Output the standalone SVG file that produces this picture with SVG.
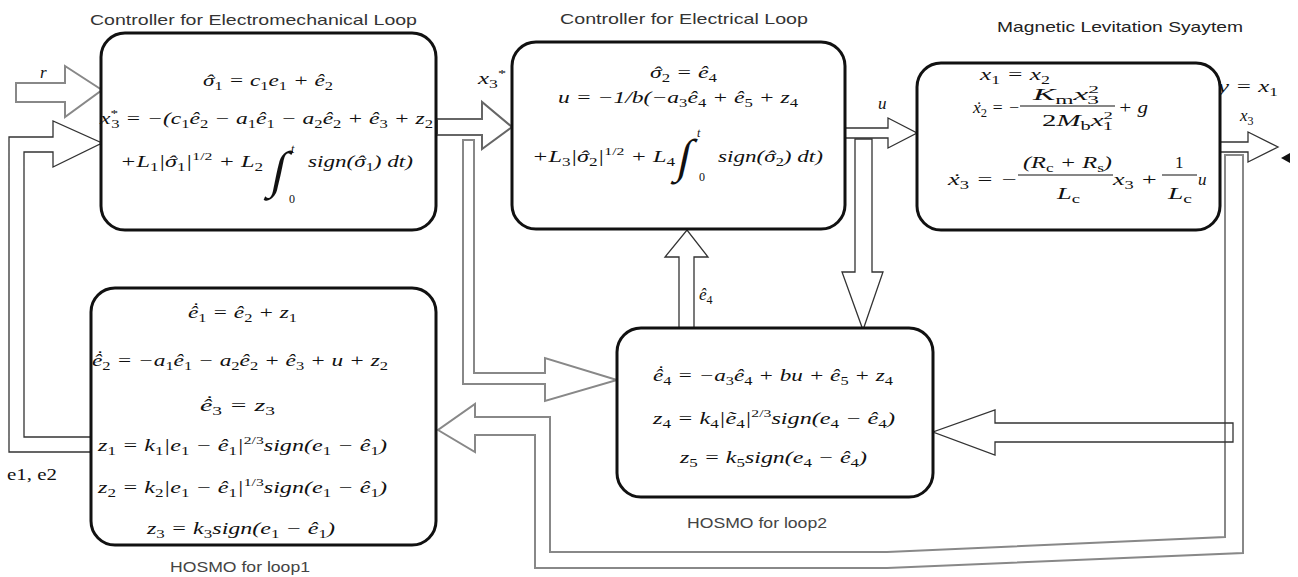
<svg xmlns="http://www.w3.org/2000/svg" width="1298" height="577" viewBox="0 0 1298 577">
<style>
.m{font-family:"Liberation Serif","DejaVu Serif",serif;font-size:17px;font-style:italic;fill:#111}
.n{font-style:normal}
.i{font-style:italic}
.b{font-size:12px;baseline-shift:-4px;font-style:normal}
.p{font-size:11px;baseline-shift:7px;font-style:normal}
.lim{font-family:"Liberation Serif",serif;font-size:12px;fill:#111}
.int{font-family:"Liberation Serif","DejaVu Serif",serif;fill:#111}
.t{font-family:"Liberation Sans",Arial,sans-serif;font-size:15px;fill:#333}
.box{fill:#fff;stroke:#111;stroke-width:3}
.dk{fill:none;stroke:#333;stroke-width:1.3}
.gr{fill:none;stroke:#888;stroke-width:2}
.bar{stroke:#111;stroke-width:1.2}
</style>
<rect width="1298" height="577" fill="#fff"/>
<g id="connectors">
  <polygon class="gr" points="16,83 65,83 65,66 102,90 65,117 65,102 16,102"/>
  <polygon class="dk" points="91,452 9,452 9,137 53,137 53,121 102,143 53,167 53,152 24,152 24,437 91,437"/>
  <polygon class="gr" style="stroke:#666" points="437,119 482,119 482,102 512,127 482,149 482,135 437,135"/>
  <polygon class="gr" points="463,140 474,140 474,373 545,373 545,358 617,380 545,401 545,384 463,384"/>
  <polygon class="dk" points="845,128 888,128 888,118 917,133 888,148 888,138 845,138"/>
  <polygon class="dk" points="855,139 872,139 872,272 883,272 863,330 842,272 855,272"/>
  <polygon class="dk" points="679,328 679,257 665,257 687,230 708,257 694,257 694,328"/>
  <polygon class="dk" points="1220,142 1248,142 1248,132 1278,147 1248,162 1248,152 1220,152"/>
  <polygon fill="#111" points="1281,158 1290,153 1290,163"/>
  <polygon class="gr" points="1225,155 1243,155 1243,553 887,568 535,568 535,435 475,435 475,452 438,430 475,404 475,417 550,417 550,552 887,552 1225,537"/>
  <polygon class="dk" points="1233,423 995,423 995,410 933,432 995,455 995,442 1233,442"/>
  <text class="m" x="40" y="78">r</text>
  <text class="m" x="478" y="84" textLength="28" lengthAdjust="spacingAndGlyphs">x<tspan class="b">3</tspan><tspan class="p">*</tspan></text>
  <text class="m" x="878" y="109">u</text>
  <text class="m" x="699" y="300">ê<tspan class="b">4</tspan></text>
  <text class="m" x="1218" y="92" textLength="60" lengthAdjust="spacingAndGlyphs">y = x<tspan class="b">1</tspan></text>
  <text class="m" x="1240" y="121">x<tspan class="b">3</tspan></text>
  <text class="m n" x="7" y="480" textLength="50" lengthAdjust="spacingAndGlyphs">e1, e2</text>
</g>
<g id="ctrl-electromechanical">
  <rect class="box" x="101" y="33" width="335" height="197" rx="24"/>
  <text class="t" x="90" y="25" textLength="327" lengthAdjust="spacingAndGlyphs">Controller for Electromechanical Loop</text>
  <text class="m" x="203" y="86" textLength="130" lengthAdjust="spacingAndGlyphs">σ<tspan dx="-6.5">ˆ</tspan><tspan class="b" dx="0.8">1</tspan> = c<tspan class="b">1</tspan>e<tspan class="b">1</tspan> + ê<tspan class="b">2</tspan></text>
  <text class="m" x="100" y="124" textLength="333" lengthAdjust="spacingAndGlyphs">x<tspan class="p">*</tspan><tspan class="b" dx="-5">3</tspan> = −(c<tspan class="b">1</tspan>ê<tspan class="b">2</tspan> − a<tspan class="b">1</tspan>ê<tspan class="b">1</tspan> − a<tspan class="b">2</tspan>ê<tspan class="b">2</tspan> + ê<tspan class="b">3</tspan> + z<tspan class="b">2</tspan></text>
  <text class="m" x="120" y="167" textLength="143" lengthAdjust="spacingAndGlyphs">+L<tspan class="b">1</tspan>|σ<tspan dx="-6.5">ˆ</tspan><tspan class="b" dx="0.8">1</tspan>|<tspan class="p">1/2</tspan> + L<tspan class="b">2</tspan></text>
  <text class="int" font-size="51" text-anchor="middle" transform="translate(276,187) skewX(-12)">∫</text>
  <text class="lim i" x="291" y="153">t</text>
  <text class="lim" x="289" y="203">0</text>
  <text class="m" x="308" y="167" textLength="105" lengthAdjust="spacingAndGlyphs">sign(σ<tspan dx="-6.5">ˆ</tspan><tspan class="b" dx="0.8">1</tspan>) dt)</text>
</g>
<g id="ctrl-electrical">
  <rect class="box" x="512" y="42" width="333" height="187" rx="24"/>
  <text class="t" x="560" y="24" textLength="248" lengthAdjust="spacingAndGlyphs">Controller for Electrical Loop</text>
  <text class="m" x="650" y="78" textLength="67" lengthAdjust="spacingAndGlyphs">σ<tspan dx="-6.5">ˆ</tspan><tspan class="b" dx="0.8">2</tspan> = ê<tspan class="b">4</tspan></text>
  <text class="m" x="558" y="103" textLength="240" lengthAdjust="spacingAndGlyphs">u = −1/b(−a<tspan class="b">3</tspan>ê<tspan class="b">4</tspan> + ê<tspan class="b">5</tspan> + z<tspan class="b">4</tspan></text>
  <text class="m" x="532" y="162" textLength="143" lengthAdjust="spacingAndGlyphs">+L<tspan class="b">3</tspan>|σ<tspan dx="-6.5">ˆ</tspan><tspan class="b" dx="0.8">2</tspan>|<tspan class="p">1/2</tspan> + L<tspan class="b">4</tspan></text>
  <text class="int" font-size="47" text-anchor="middle" transform="translate(682,172) skewX(-12)">∫</text>
  <text class="lim i" x="697" y="137">t</text>
  <text class="lim" x="699" y="181">0</text>
  <text class="m" x="718" y="162" textLength="105" lengthAdjust="spacingAndGlyphs">sign(σ<tspan dx="-6.5">ˆ</tspan><tspan class="b" dx="0.8">2</tspan>) dt)</text>
</g>
<g id="maglev-system">
  <rect class="box" x="917" y="63" width="303" height="167" rx="24"/>
  <text class="t" x="997" y="32" textLength="246" lengthAdjust="spacingAndGlyphs" style="fill:#222">Magnetic Levitation Syaytem</text>
  <text class="m" x="980" y="80" textLength="70" lengthAdjust="spacingAndGlyphs">x<tspan class="b">1</tspan> = x<tspan class="b">2</tspan></text>
  <text class="m" x="973" y="113" textLength="47" lengthAdjust="spacingAndGlyphs">x<tspan dx="-5.6">˙</tspan><tspan class="b" dx="-0.1">2</tspan> = −</text>
  <line class="bar" x1="1020" y1="106" x2="1115" y2="106"/>
  <text class="m" x="1033" y="100" textLength="66" lengthAdjust="spacingAndGlyphs">K<tspan class="b i">m</tspan>x<tspan class="p">2</tspan><tspan class="b" dx="-6">3</tspan></text>
  <text class="m" x="1042" y="126" textLength="71" lengthAdjust="spacingAndGlyphs"><tspan class="n">2</tspan>M<tspan class="b i">b</tspan>x<tspan class="p">2</tspan><tspan class="b" dx="-6">1</tspan></text>
  <text class="m" x="1118" y="113" textLength="30" lengthAdjust="spacingAndGlyphs">+ g</text>
  <text class="m" x="948" y="185" textLength="70" lengthAdjust="spacingAndGlyphs">x<tspan dx="-5.6">˙</tspan><tspan class="b" dx="-0.1">3</tspan> = −</text>
  <line class="bar" x1="1018" y1="175" x2="1113" y2="175"/>
  <text class="m" x="1023" y="168" textLength="89" lengthAdjust="spacingAndGlyphs">(R<tspan class="b i">c</tspan> + R<tspan class="b i">s</tspan>)</text>
  <text class="m" x="1057" y="199" textLength="23" lengthAdjust="spacingAndGlyphs">L<tspan class="b i">c</tspan></text>
  <text class="m" x="1113" y="185" textLength="45" lengthAdjust="spacingAndGlyphs">x<tspan class="b">3</tspan> +</text>
  <line class="bar" x1="1162" y1="175" x2="1197" y2="175"/>
  <text class="m n" x="1175" y="168">1</text>
  <text class="m" x="1168" y="199" textLength="24" lengthAdjust="spacingAndGlyphs">L<tspan class="b i">c</tspan></text>
  <text class="m" x="1198" y="185">u</text>
</g>
<g id="hosmo-loop1">
  <rect class="box" x="91" y="288" width="345" height="257" rx="24"/>
  <text class="t" x="170" y="572" textLength="140" lengthAdjust="spacingAndGlyphs" style="fill:#444">HOSMO for loop1</text>
  <text class="m" x="188" y="318" textLength="109" lengthAdjust="spacingAndGlyphs">ê<tspan dx="-5.6" dy="-4">˙</tspan><tspan class="b" dx="-0.1" dy="4">1</tspan> = ê<tspan class="b">2</tspan> + z<tspan class="b">1</tspan></text>
  <text class="m" x="92" y="366" textLength="296" lengthAdjust="spacingAndGlyphs">ê<tspan dx="-5.6" dy="-4">˙</tspan><tspan class="b" dx="-0.1" dy="4">2</tspan> = −a<tspan class="b">1</tspan>ê<tspan class="b">1</tspan> − a<tspan class="b">2</tspan>ê<tspan class="b">2</tspan> + ê<tspan class="b">3</tspan> + u + z<tspan class="b">2</tspan></text>
  <text class="m" x="200" y="411" textLength="75" lengthAdjust="spacingAndGlyphs">ê<tspan dx="-5.6" dy="-4">˙</tspan><tspan class="b" dx="-0.1" dy="4">3</tspan> = z<tspan class="b">3</tspan></text>
  <text class="m" x="98" y="451" textLength="289" lengthAdjust="spacingAndGlyphs">z<tspan class="b">1</tspan> = k<tspan class="b">1</tspan>|e<tspan class="b">1</tspan> − ê<tspan class="b">1</tspan>|<tspan class="p">2/3</tspan>sign(e<tspan class="b">1</tspan> − ê<tspan class="b">1</tspan>)</text>
  <text class="m" x="98" y="493" textLength="289" lengthAdjust="spacingAndGlyphs">z<tspan class="b">2</tspan> = k<tspan class="b">2</tspan>|e<tspan class="b">1</tspan> − ê<tspan class="b">1</tspan>|<tspan class="p">1/3</tspan>sign(e<tspan class="b">1</tspan> − ê<tspan class="b">1</tspan>)</text>
  <text class="m" x="147" y="534" textLength="188" lengthAdjust="spacingAndGlyphs">z<tspan class="b">3</tspan> = k<tspan class="b">3</tspan>sign(e<tspan class="b">1</tspan> − ê<tspan class="b">1</tspan>)</text>
</g>
<g id="hosmo-loop2">
  <rect class="box" x="617" y="328" width="316" height="169" rx="24"/>
  <text class="t" x="687" y="528" textLength="140" lengthAdjust="spacingAndGlyphs" style="fill:#444">HOSMO for loop2</text>
  <text class="m" x="653" y="381" textLength="240" lengthAdjust="spacingAndGlyphs">ê<tspan dx="-5.6" dy="-4">˙</tspan><tspan class="b" dx="-0.1" dy="4">4</tspan> = −a<tspan class="b">3</tspan>ê<tspan class="b">4</tspan> + bu + ê<tspan class="b">5</tspan> + z<tspan class="b">4</tspan></text>
  <text class="m" x="653" y="424" textLength="242" lengthAdjust="spacingAndGlyphs">z<tspan class="b">4</tspan> = k<tspan class="b">4</tspan>|ẽ<tspan class="b">4</tspan>|<tspan class="p">2/3</tspan>sign(e<tspan class="b">4</tspan> − ê<tspan class="b">4</tspan>)</text>
  <text class="m" x="680" y="463" textLength="187" lengthAdjust="spacingAndGlyphs">z<tspan class="b">5</tspan> = k<tspan class="b">5</tspan>sign(e<tspan class="b">4</tspan> − ê<tspan class="b">4</tspan>)</text>
</g>
</svg>
